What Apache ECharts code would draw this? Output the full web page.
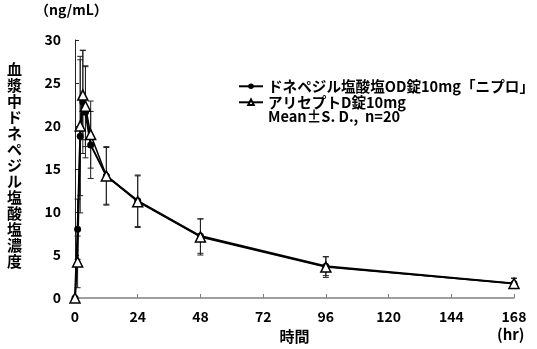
<!DOCTYPE html>
<html>
<head>
<meta charset="utf-8">
<style>
  html, body { margin: 0; padding: 0; background: #fff; }
  #chart { width: 537px; height: 349px; }
</style>
<script src="https://cdn.jsdelivr.net/npm/echarts@6/dist/echarts.min.js"></script>
</head>
<body>
<div id="chart"></div>
<script>
// Sampling times (hr)
const times = [0, 1, 2, 3, 4, 6, 12, 24, 48, 96, 168];

// Plasma donepezil hydrochloride concentration (ng/mL), mean and S.D.
const testName = 'ドネペジル塩酸塩OD錠10mg「ニプロ」';
const testMean = [0, 8.0, 18.8, 22.8, 21.6, 17.8, 14.2, 11.3, 7.2, 3.7, 1.7];
const testSD   = [0, 3.5, 8.9, 6.0, 5.3, 3.9, 3.3, 3.0, 2.0, 1.1, 0.6];

const refName = 'アリセプトD錠10mg';
const refMean = [0, 4.2, 20.0, 23.6, 22.3, 19.0, 14.2, 11.2, 7.1, 3.6, 1.7];
const refSD   = [0, 3.0, 8.1, 5.2, 4.7, 3.9, 3.4, 3.0, 2.1, 1.2, 0.6];

const xTicks = [0, 24, 48, 72, 96, 120, 144, 168];
const yTicks = [0, 5, 10, 15, 20, 25, 30];

const FONT = '"Noto Sans CJK JP", "Liberation Sans", sans-serif';
const LEGEND_FONT = { fontSize: 14.6, fontWeight: 'bold', color: '#000', fontFamily: FONT };

function pairs(mean) {
  return times.map((t, i) => [t, mean[i]]);
}
function bars(mean, sd) {
  return times.map((t, i) => [t, mean[i] - sd[i], mean[i] + sd[i]])
    .filter((d, i) => sd[i] > 0);
}

// Vertical error bar with caps at both ends
function renderErrorBar(params, api) {
  const x = api.value(0);
  const lo = api.coord([x, api.value(1)]);
  const hi = api.coord([x, api.value(2)]);
  const w = 3;
  const style = { stroke: '#222', lineWidth: 1 };
  return {
    type: 'group',
    children: [
      { type: 'line', shape: { x1: hi[0], y1: hi[1], x2: lo[0], y2: lo[1] }, style },
      { type: 'line', shape: { x1: hi[0] - w, y1: hi[1], x2: hi[0] + w, y2: hi[1] }, style },
      { type: 'line', shape: { x1: lo[0] - w, y1: lo[1], x2: lo[0] + w, y2: lo[1] }, style }
    ]
  };
}

function legendRow(name, top) {
  return {
    orient: 'horizontal', left: 238, top: top, padding: 0,
    itemWidth: 24, itemHeight: 7,
    textStyle: LEGEND_FONT,
    data: [name]
  };
}

const chart = echarts.init(document.getElementById('chart'), null, { renderer: 'canvas' });

chart.setOption({
  backgroundColor: '#fff',
  animation: false,
  textStyle: { fontFamily: FONT },
  grid: { left: 75, right: 23, top: 40, bottom: 51, containLabel: false },
  xAxis: {
    type: 'value',
    min: 0, max: 168, interval: 24,
    name: '時間',
    nameLocation: 'middle',
    nameGap: 29,
    nameTextStyle: { fontSize: 15, fontWeight: 'bold', color: '#000', fontFamily: FONT },
    axisLine: { lineStyle: { color: '#808080', width: 1.5 } },
    axisTick: { inside: true, length: 4, lineStyle: { color: '#808080' } },
    axisLabel: {
      fontSize: 14, fontWeight: 'bold', color: '#000', margin: 12, fontFamily: FONT,
      customValues: xTicks
    },
    splitLine: { show: false }
  },
  yAxis: {
    type: 'value',
    min: 0, max: 30, interval: 5,
    axisLine: { show: true, lineStyle: { color: '#222', width: 1 } },
    axisTick: { show: true, inside: true, length: 4, lineStyle: { color: '#222' } },
    axisLabel: {
      fontSize: 14, fontWeight: 'bold', color: '#000', margin: 14, fontFamily: FONT,
      customValues: yTicks
    },
    splitLine: { show: false }
  },
  legend: [legendRow(testName, 79), legendRow(refName, 95)],
  graphic: [
    {
      type: 'text', left: 268, top: 109,
      style: { text: 'Mean±S. D.,  n=20', fontSize: 14.6, fontWeight: 'bold', fill: '#000', fontFamily: FONT }
    },
    {
      type: 'text', left: 35, top: 3,
      style: { text: '（ng/mL）', fontSize: 14, fontWeight: 'bold', fill: '#000', fontFamily: FONT }
    },
    {
      type: 'text', left: 497, top: 327,
      style: { text: '(hr)', fontSize: 15, fontWeight: 'bold', fill: '#000', fontFamily: FONT }
    },
    {
      type: 'text', left: 7, top: 61,
      style: {
        text: '血漿中ドネペジル塩酸塩濃度'.split('').join('\n'),
        fontSize: 15, fontWeight: 'bold', fill: '#000', fontFamily: FONT,
        lineHeight: 16, align: 'left'
      }
    }
  ],
  series: [
    {
      name: 'testSD', type: 'custom', renderItem: renderErrorBar,
      data: bars(testMean, testSD), encode: { x: 0, y: [1, 2] }, z: 1, clip: false
    },
    {
      name: 'refSD', type: 'custom', renderItem: renderErrorBar,
      data: bars(refMean, refSD), encode: { x: 0, y: [1, 2] }, z: 1, clip: false
    },
    {
      name: testName, type: 'line', data: pairs(testMean),
      symbol: 'circle', symbolSize: 7,
      lineStyle: { color: '#000', width: 2 },
      itemStyle: { color: '#000' },
      z: 2, clip: false
    },
    {
      name: refName, type: 'line', data: pairs(refMean),
      symbol: 'triangle', symbolSize: 10,
      lineStyle: { color: '#000', width: 1.5 },
      itemStyle: { color: '#fff', borderColor: '#000', borderWidth: 1.5 },
      z: 3, clip: false
    }
  ]
});
</script>
</body>
</html>
